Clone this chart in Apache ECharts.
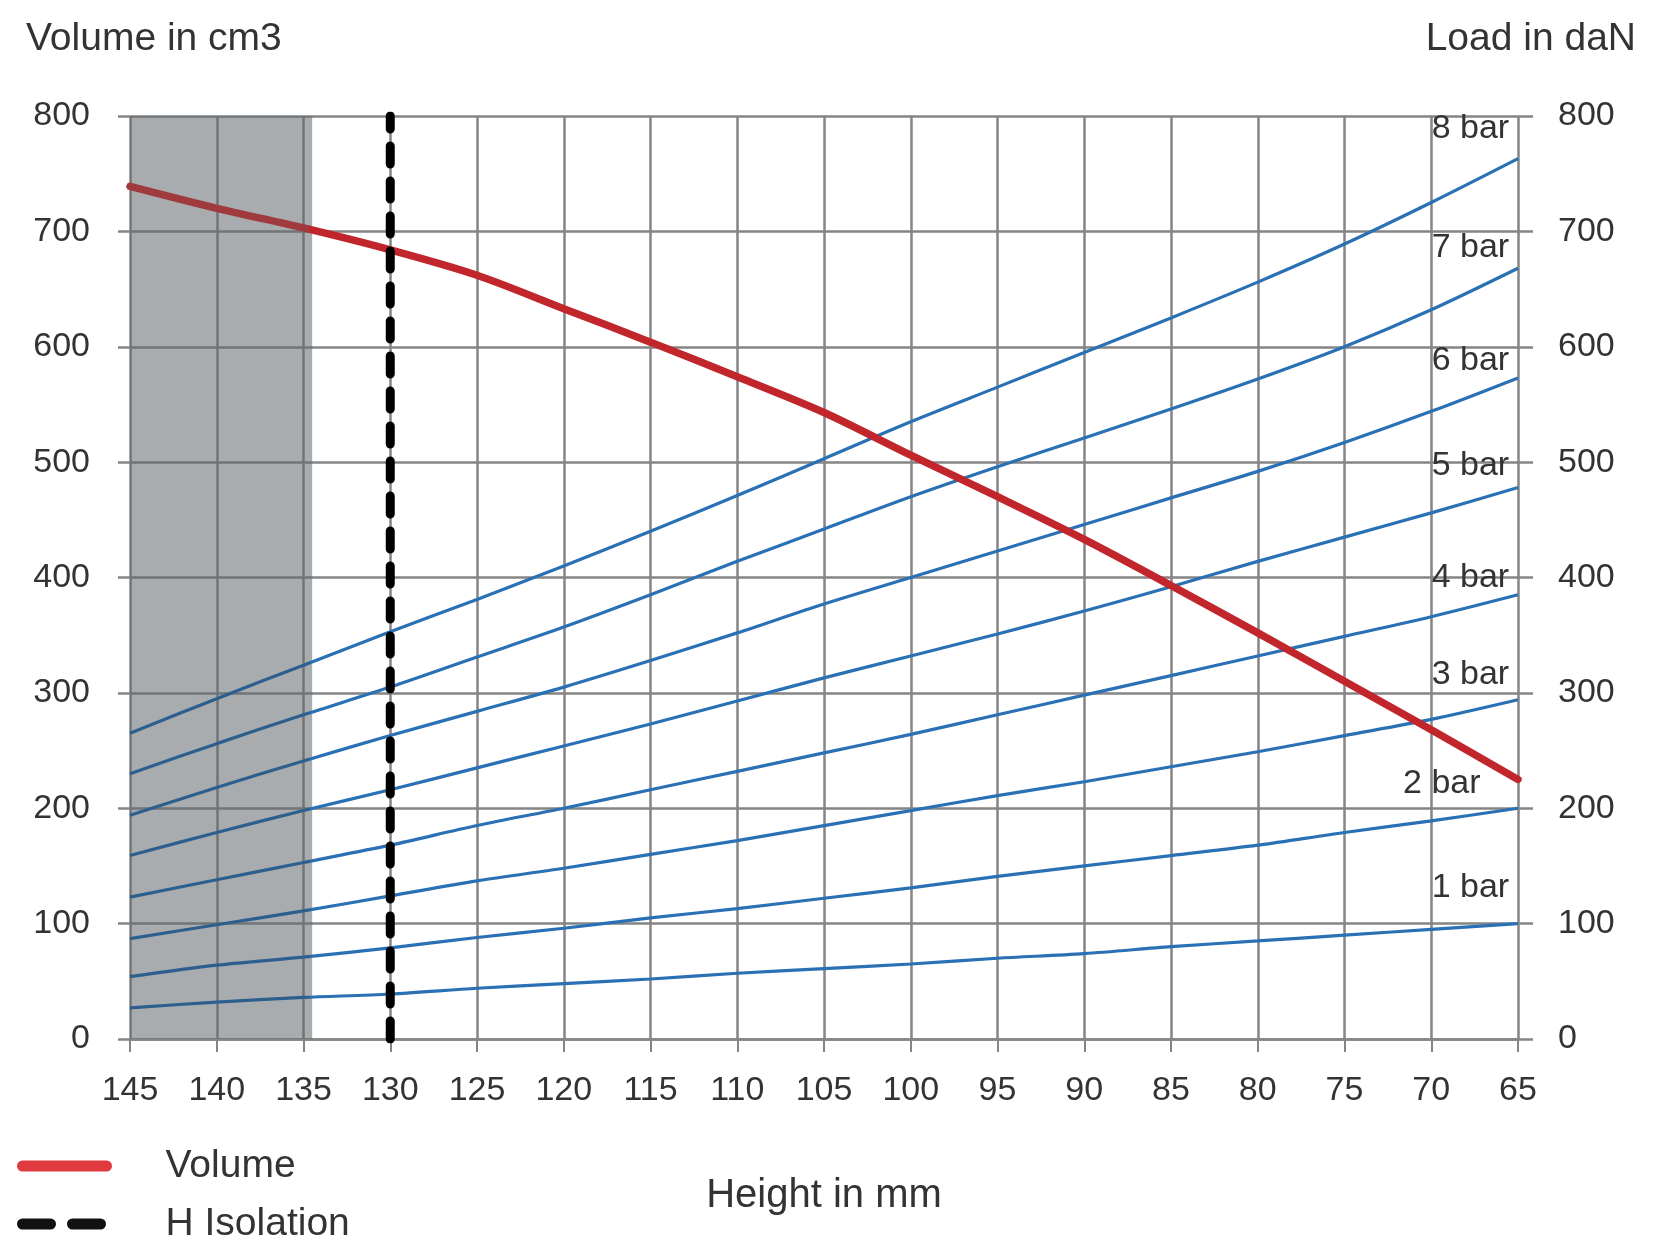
<!DOCTYPE html>
<html>
<head>
<meta charset="utf-8">
<script src="https://cdn.jsdelivr.net/npm/echarts@6/dist/echarts.min.js"></script>
<style>
html,body{margin:0;padding:0;background:#fff;}
#chart{width:1674px;height:1245px;}
</style>
</head>
<body>
<div id="chart"></div>
<script>
// Heights (x axis, mm)
const heights = [145,140,135,130,125,120,115,110,105,100,95,90,85,80,75,70,65];
// Volume in cm3 (left axis)
const volume = [739,720,703,684,662,633,604,574,543,506,470,433,393,352,310,268,225];
// Load in daN (right axis) per pressure
const load1 = [27,32,36,39,44,48,52,57,61,65,70,74,80,85,90,95,100];
const load2 = [54,64,71,79,88,96,105,113,122,131,141,150,159,168,179,189,200];
const load3 = [87,99,111,124,137,148,160,172,185,198,211,223,236,249,263,277,294];
const load4 = [123,138,153,168,185,200,216,232,248,264,281,298,315,332,349,366,385];
const load5 = [159,179,198,216,235,254,273,293,313,332,351,371,392,414,435,456,478];
const load6 = [194,218,241,263,284,305,328,352,377,400,423,446,469,492,517,544,573];
const load7 = [230,256,281,305,331,357,385,414,442,470,496,521,546,572,600,632,668];
const load8 = [265,295,324,353,381,410,440,471,503,535,565,595,625,656,689,725,763];
const loadSeries = [load1,load2,load3,load4,load5,load6,load7,load8];
const pressureNames = ['1 bar','2 bar','3 bar','4 bar','5 bar','6 bar','7 bar','8 bar'];
const pressureLabelLevels = [131,221,316,400,497,588,686,789];
// Tick values
const yTicks = [0,100,200,300,400,500,600,700,800];
const isolationHeight = 130;
const shadedRange = [145,134.5];

const FONT = '"Liberation Sans", Arial, sans-serif';
const TXT = '#333333';
const GRID = '#858585';

const pair = arr => heights.map((h,i)=>[h,arr[i]]);
const labelAnchorX = pressureNames.map(n => n === '2 bar' ? 67.1 : 65.45);

// fraction of the x-extent covered by the shaded band (lines span the full range)
const bandFrac = (shadedRange[0]-shadedRange[1]) / (heights[0]-heights[heights.length-1]);
function splitColor(dark, normal){
  return new echarts.graphic.LinearGradient(0,0,1,0,[
    {offset:0,color:dark},{offset:bandFrac,color:dark},
    {offset:bandFrac,color:normal},{offset:1,color:normal}
  ]);
}

const series = [];
series.push({
  name:'Volume', type:'line', yAxisIndex:0, data: pair(volume),
  showSymbol:false, symbol:'none', smooth:0.3, z:4,
  itemStyle:{color:'#e03a3e'},
  lineStyle:{width:7.5, cap:'round', color:splitColor('#9f3a3e','#c1262c')},
  markArea:{silent:true, itemStyle:{color:'rgba(98,103,108,0.55)'},
    data:[[{xAxis:shadedRange[0]},{xAxis:shadedRange[1]}]]}
});
loadSeries.forEach((arr,i)=>{
  series.push({
    name:pressureNames[i], type:'line', yAxisIndex:1, data: pair(arr),
    showSymbol:false, symbol:'none', smooth:0.3, z:3,
    lineStyle:{width:3.2, color:splitColor('#2d5f8e','#2a70b4')}
  });
});
series.push({
  name:'H Isolation', type:'line', yAxisIndex:0,
  data:[[isolationHeight,0],[isolationHeight,800]],
  showSymbol:false, symbol:'none', z:5,
  lineStyle:{color:'#000', width:9, type:[18,17], cap:'round'},
  itemStyle:{color:'#000'}
});
series.push({
  name:'labels', type:'scatter', yAxisIndex:1, symbolSize:2, z:6,
  itemStyle:{color:'rgba(255,255,255,0)', opacity:1},
  data: pressureNames.map((n,i)=>[labelAnchorX[i], pressureLabelLevels[i], n]),
  label:{show:true, position:'left', distance:0, formatter:p=>p.data[2],
    fontSize:34, color:TXT, opacity:1, fontFamily:FONT}
});

const chart = echarts.init(document.getElementById('chart'));
chart.setOption({
  animation:false,
  backgroundColor:'#ffffff',
  title:[
    {text:'Volume in cm3', left:21, top:15, textStyle:{fontSize:39, fontWeight:'normal', color:TXT, fontFamily:FONT}},
    {text:'Load in daN', right:33, top:15, textStyle:{fontSize:39, fontWeight:'normal', color:TXT, fontFamily:FONT}}
  ],
  grid:{left:130, right:156, top:116, bottom:206},
  legend:{
    orient:'vertical', left:17, top:1146, itemWidth:84, itemHeight:12, itemGap:18,
    padding:0,
    textStyle:{fontSize:39, lineHeight:40, color:TXT, fontFamily:FONT, padding:[0,0,0,54]},
    data:[
      {name:'Volume', itemStyle:{color:'#e03a3e', opacity:0}, lineStyle:{color:'#e03a3e', width:11, cap:'round'}},
      {name:'H Isolation', itemStyle:{color:'#111', opacity:0}, lineStyle:{color:'#111', width:11, type:[28,22], cap:'round'}}
    ]
  },
  xAxis:{
    type:'value', min:65, max:145, interval:5, inverse:true,
    name:'Height in mm', nameLocation:'middle', nameGap:137,
    nameTextStyle:{fontSize:40, color:TXT, fontFamily:FONT},
    axisLine:{show:true, lineStyle:{color:GRID, width:2.5}},
    axisTick:{show:true, length:13, lineStyle:{color:GRID, width:2}},
    axisLabel:{fontSize:34, color:TXT, fontFamily:FONT, margin:35},
    splitLine:{show:true, lineStyle:{color:GRID, width:2.5}}
  },
  yAxis:[
    {type:'value', min:0, max:800, interval:100, position:'left',
      axisLine:{show:false},
      axisTick:{show:true, length:12, lineStyle:{color:GRID, width:2.5}},
      axisLabel:{fontSize:34, color:TXT, fontFamily:FONT, margin:40},
      splitLine:{show:true, lineStyle:{color:GRID, width:2.5}}},
    {type:'value', min:0, max:800, interval:100, position:'right',
      axisLine:{show:false},
      axisTick:{show:true, length:15, lineStyle:{color:GRID, width:2.5}},
      axisLabel:{fontSize:34, color:TXT, fontFamily:FONT, margin:40},
      splitLine:{show:false}}
  ],
  series: series
});
</script>
</body>
</html>
